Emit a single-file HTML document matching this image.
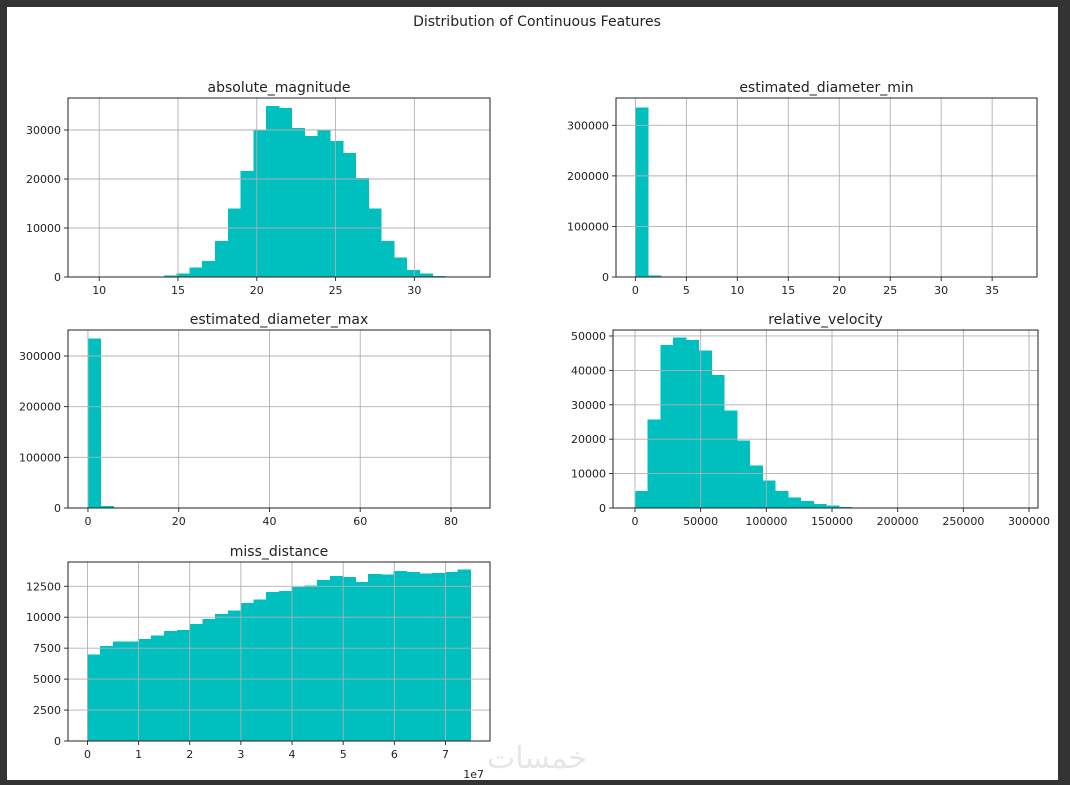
<!DOCTYPE html>
<html><head><meta charset="utf-8">
<style>
html,body{margin:0;padding:0;background:#333;}
#frame{position:absolute;left:7px;top:7px;width:1051px;height:773px;background:#fff;}
svg{position:absolute;left:0;top:0;}
text{font-family:"DejaVu Sans","Liberation Sans",sans-serif;fill:#222;}
</style></head>
<body>
<div id="frame"></div>
<svg id="fig" width="1070" height="785">
<text x="537" y="26" font-size="14" text-anchor="middle">Distribution of Continuous Features</text>
<text x="537" y="768" font-size="30" text-anchor="middle" style="fill:#e6e6e6" font-family="DejaVu Sans, sans-serif">خمسات</text>
</svg>
<script>
// absolute_magnitude
const amStart = 9.24, amWidth = 0.811;
const amCounts = [0,0,0,0,0,0,300,700,1900,3300,7300,14000,21600,30000,34900,34500,30400,28800,30000,27800,25300,20200,14000,7300,4000,1400,700,200,150,40];
const amXTicks = [10,15,20,25,30];
const amYTicks = [0,10000,20000,30000];
// estimated_diameter_min
const dminStart = 0, dminWidth = 1.25;
const dminCounts = [335000,3000,300,0,0,0,0,0,0,0,0,0,0,0,0,0,0,0,0,0,0,0,0,0,0,0,0,0,0,10];
const dminXTicks = [0,5,10,15,20,25,30,35];
const dminYTicks = [0,100000,200000,300000];
// estimated_diameter_max
const dmaxStart = 0, dmaxWidth = 2.8;
const dmaxCounts = [335000,4000,300,0,0,0,0,0,0,0,0,0,0,0,0,0,0,0,0,0,0,0,0,0,0,0,0,0,0,10];
const dmaxXTicks = [0,20,40,60,80];
const dmaxYTicks = [0,100000,200000,300000];
// relative_velocity
const rvStart = 0, rvWidth = 9700;
const rvCounts = [5000,25700,47400,49600,48900,45800,38700,28400,19600,12300,8000,5000,3000,2100,1200,700,300,100,50,20,10,0,0,0,0,0,0,0,0,5];
const rvXTicks = [0,50000,100000,150000,200000,250000,300000];
const rvYTicks = [0,10000,20000,30000,40000,50000];
// miss_distance (units of 1e7)
const mdStart = 0, mdWidth = 0.2495;
const mdCounts = [7000,7670,8030,8030,8220,8510,8870,8980,9460,9840,10250,10550,11140,11420,12040,12120,12450,12580,12990,13340,13230,12850,13480,13450,13720,13640,13530,13590,13670,13860];
const mdXTicks = [0,1,2,3,4,5,6,7];
const mdYTicks = [0,2500,5000,7500,10000,12500];

const NS = "http://www.w3.org/2000/svg";
const svg = document.getElementById('fig');
function mk(tag, attrs, parent){
  const e = document.createElementNS(NS, tag);
  for (const k in attrs) e.setAttribute(k, attrs[k]);
  (parent||svg).appendChild(e);
  return e;
}
function hist(name, title, box, xmin, xmax, ymax, start, width, counts, xticks, yticks, extraLabel){
  const [L,T,R,B] = box;
  const g = mk('g', {});
  
  
  const sx = v => L + (v - xmin) / (xmax - xmin) * (R - L);
  const sy = v => B - v / ymax * (B - T);
  counts.forEach((c, i) => {
    if (c <= 0) return;
    const x0 = sx(start + i*width), x1 = sx(start + (i+1)*width);
    const r = mk('rect', {x:x0, y:sy(c), width:x1-x0+0.5, height:B-sy(c), fill:'#00bfbf', 'shape-rendering':'crispEdges'}, g);
    
    
  });
  xticks.forEach(t => {
    const x = sx(t);
    const l = mk('line', {x1:x, x2:x, y1:T, y2:B, stroke:'#b0b0b0', 'stroke-width':0.9}, g);
    
    
    mk('line', {x1:x, x2:x, y1:B, y2:B+4, stroke:'#222', 'stroke-width':0.9}, g);
    const tx = mk('text', {x:x, y:B+17, 'font-size':11, 'text-anchor':'middle'}, g);
    tx.textContent = t;
    
    
  });
  yticks.forEach(t => {
    const y = sy(t);
    const l = mk('line', {x1:L, x2:R, y1:y, y2:y, stroke:'#b0b0b0', 'stroke-width':0.9}, g);
    
    
    mk('line', {x1:L-4, x2:L, y1:y, y2:y, stroke:'#222', 'stroke-width':0.9}, g);
    const tx = mk('text', {x:L-7, y:y+4, 'font-size':11, 'text-anchor':'end'}, g);
    tx.textContent = t;
    
    
  });
  const fr = mk('rect', {x:L, y:T, width:R-L, height:B-T, fill:'none', stroke:'#222', 'stroke-width':1}, g);
  
  
  const tt = mk('text', {x:(L+R)/2, y:T-6, 'font-size':14, 'text-anchor':'middle'}, g);
  tt.textContent = title;
  
  
  if (extraLabel){
    const ex = mk('text', {x:R-6, y:B+37, 'font-size':11, 'text-anchor':'end'}, g);
    ex.textContent = extraLabel;
    
    
  }
}
hist('absolute-magnitude','absolute_magnitude',[68,98,490,277], 8.02, 34.8, 36530, amStart, amWidth, amCounts, amXTicks, amYTicks);
hist('estimated-diameter-min','estimated_diameter_min',[616,98,1037,277], -1.9, 39.4, 354000, dminStart, dminWidth, dminCounts, dminXTicks, dminYTicks);
hist('estimated-diameter-max','estimated_diameter_max',[68,330,490,508], -4.4, 88.6, 351300, dmaxStart, dmaxWidth, dmaxCounts, dmaxXTicks, dmaxYTicks);
hist('relative-velocity','relative_velocity',[613,330,1038,508], -16750, 306850, 51740, rvStart, rvWidth, rvCounts, rvXTicks, rvYTicks);
hist('miss-distance','miss_distance',[68,562,490,741], -0.38, 7.87, 14460, mdStart, mdWidth, mdCounts, mdXTicks, mdYTicks, '1e7');
</script>
</body></html>
